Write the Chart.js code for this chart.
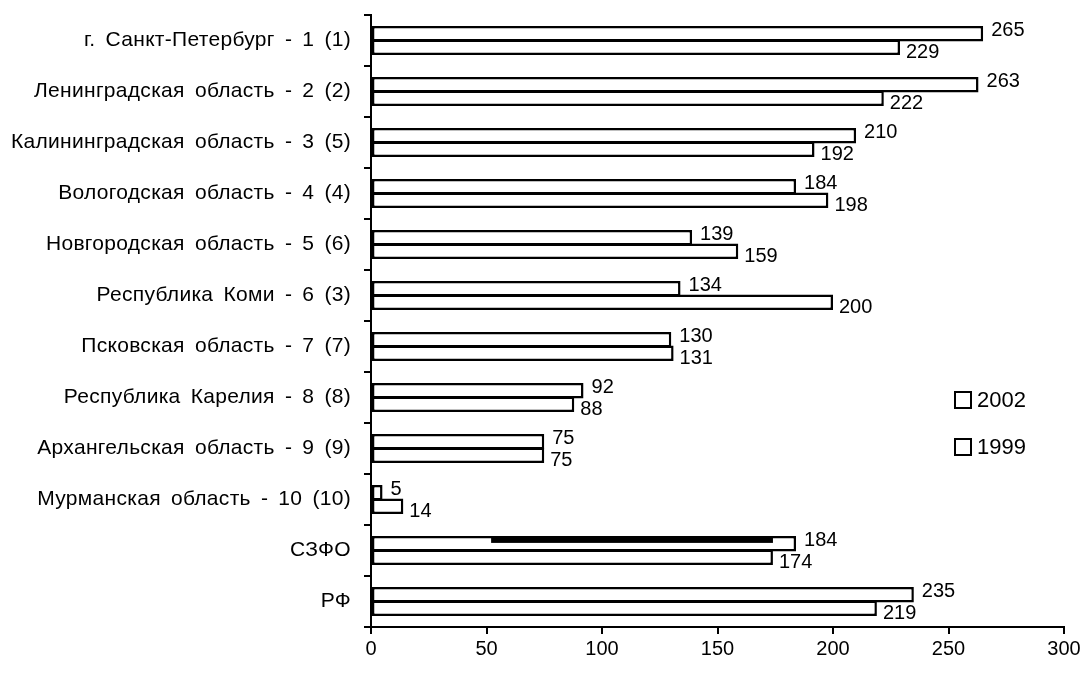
<!DOCTYPE html>
<html>
<head>
<meta charset="utf-8">
<script src="https://cdn.jsdelivr.net/npm/chart.js@4.4.1/dist/chart.umd.min.js"></script>
<style>
    html, body { margin: 0; padding: 0; background: #fff; }
    #wrap { position: relative; width: 1084px; height: 674px; }
    .legend { position: absolute; left: 954px; font-family: "Liberation Sans", Arial, sans-serif; font-size: 22px; color: #000; display: flex; align-items: center; }
    .legend span.box { display: inline-block; width: 14px; height: 14px; border: 2px solid #000; margin-right: 5px; background: #fff; }
</style>
</head>
<body>
<div id="wrap">
    <canvas id="chart" width="1084" height="674"></canvas>
    <div class="legend" style="top: 387px;"><span class="box"></span>2002</div>
    <div class="legend" style="top: 434px;"><span class="box"></span>1999</div>
</div>
<script>
const REGIONS = [
    'г. Санкт-Петербург - 1 (1)',
    'Ленинградская область - 2 (2)',
    'Калининградская область - 3 (5)',
    'Вологодская область - 4 (4)',
    'Новгородская область - 5 (6)',
    'Республика Коми - 6 (3)',
    'Псковская область - 7 (7)',
    'Республика Карелия - 8 (8)',
    'Архангельская область - 9 (9)',
    'Мурманская область - 10 (10)',
    'СЗФО',
    'РФ'
];
const VALUES_2002 = [265, 263, 210, 184, 139, 134, 130, 92, 75, 5, 184, 235];
const VALUES_1999 = [229, 222, 192, 198, 159, 200, 131, 88, 75, 14, 174, 219];
const X_TICKS = [0, 50, 100, 150, 200, 250, 300];

// the thick stroke seen on the СЗФО bar in the source
const SZFO_INDEX = 10;
const SZFO_STROKE = [52, 174];

const FONT = '"Liberation Sans", Arial, sans-serif';

// category names, drawn by hand so the loose spacing of the source can be kept
const regionLabels = {
    id: 'regionLabels',
    afterDraw(chart)
    {
        const y = chart.scales.y;
        const ctx = chart.ctx;
        ctx.save();
        ctx.font = `21px ${FONT}`;
        ctx.fillStyle = '#000';
        ctx.textBaseline = 'middle';
        ctx.textAlign = 'right';
        ctx.letterSpacing = '0.3px';
        ctx.wordSpacing = '4px';
        REGIONS.forEach((name, i) => {
            ctx.fillText(name, y.right - 20, y.getPixelForTick(i));
        });
        ctx.restore();
    }
};

const valueLabels = {
    id: 'valueLabels',
    afterDatasetsDraw(chart)
    {
        const ctx = chart.ctx;
        ctx.save();
        ctx.font = `20px ${FONT}`;
        ctx.fillStyle = '#000';
        ctx.textBaseline = 'middle';
        ctx.textAlign = 'left';
        chart.data.datasets.forEach((ds, di) => {
            const meta = chart.getDatasetMeta(di);
            meta.data.forEach((bar, i) => {
                const dx = di === 0 ? 8 : 6;
                const dy = di === 0 ? -3 : 5;
                ctx.fillText(String(ds.data[i]), bar.x + dx, bar.y + dy);
            });
        });
        ctx.restore();
    }
};

const szfoStroke = {
    id: 'szfoStroke',
    afterDatasetsDraw(chart)
    {
        const bar = chart.getDatasetMeta(0).data[SZFO_INDEX];
        if (!bar) return;
        const x = chart.scales.x;
        const top = bar.y - bar.height / 2 + 2;
        const x0 = x.getPixelForValue(SZFO_STROKE[0]);
        const x1 = x.getPixelForValue(SZFO_STROKE[1]);
        const ctx = chart.ctx;
        ctx.save();
        ctx.fillStyle = '#000';
        ctx.fillRect(x0, top, x1 - x0, 5);
        ctx.restore();
    }
};

function barStyle(label, data)
{
    return {
        label: label,
        data: data,
        backgroundColor: '#fff',
        borderColor: '#000',
        borderWidth: 2.5,
        borderSkipped: false,
        barPercentage: 1.16,
        categoryPercentage: 0.53
    };
}

new Chart(document.getElementById('chart').getContext('2d'), {
    type: 'bar',
    data: {
        labels: REGIONS,
        datasets: [barStyle('2002', VALUES_2002), barStyle('1999', VALUES_1999)]
    },
    options: {
        indexAxis: 'y',
        responsive: false,
        animation: false,
        layout: { padding: { top: 15, right: 20, left: 0, bottom: 0 } },
        plugins: {
            legend: { display: false },
            tooltip: { enabled: false }
        },
        scales: {
            x: {
                min: 0,
                max: 300,
                afterBuildTicks: s => { s.ticks = X_TICKS.map(v => ({ value: v })); },
                afterFit: s => { s.height = 47; s.paddingLeft = 0; s.paddingRight = 0; },
                ticks: { color: '#000', font: { family: FONT, size: 20 }, padding: 3, maxRotation: 0 },
                grid: { drawOnChartArea: false, drawTicks: true, tickLength: 7, color: '#000', lineWidth: 2 },
                border: { color: '#000', width: 2 }
            },
            y: {
                afterFit: s => { s.width = 371; s.paddingTop = 0; s.paddingBottom = 0; },
                ticks: { display: false, autoSkip: false },
                grid: { drawOnChartArea: false, offset: true, tickLength: 7, color: '#000', lineWidth: 2 },
                border: { color: '#000', width: 2 }
            }
        }
    },
    plugins: [valueLabels, szfoStroke, regionLabels]
});
</script>
</body>
</html>
